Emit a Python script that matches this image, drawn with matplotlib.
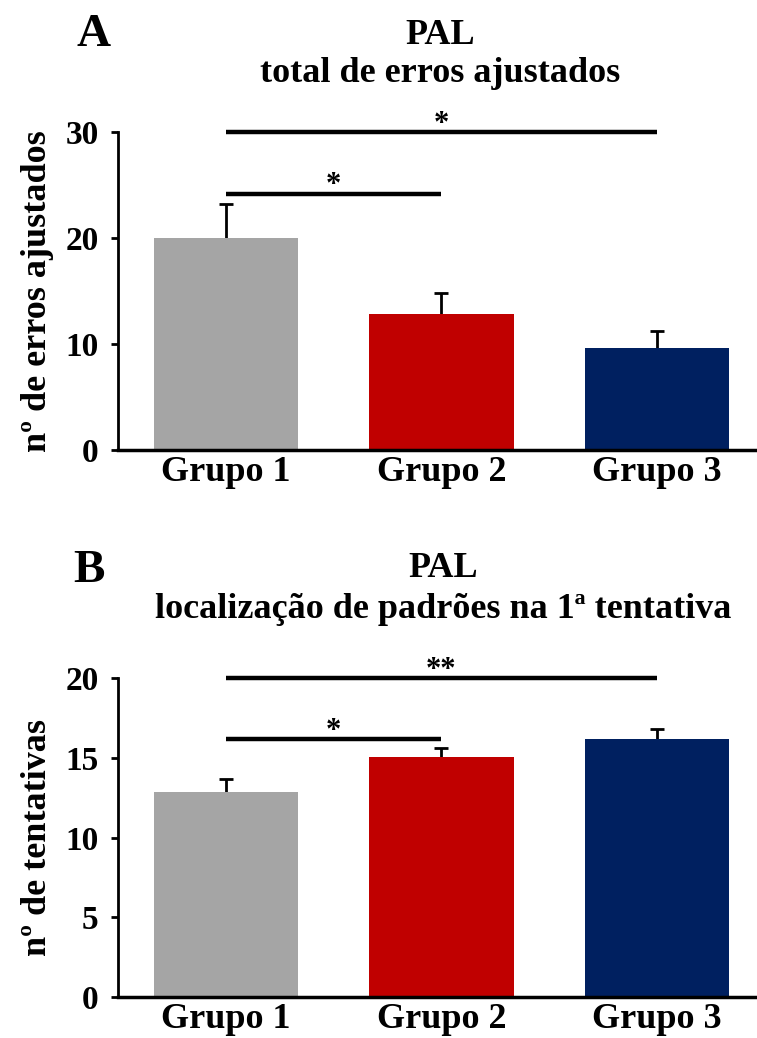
import numpy as np
import matplotlib.pyplot as plt

grupos = ['Grupo 1', 'Grupo 2', 'Grupo 3']
cores = ['#A5A5A5', '#C00000', '#002060']

# painel A - total de erros ajustados
erros_media = [20.0, 12.8, 9.6]
erros_ep = [3.2, 2.0, 1.6]
# painel B - localizacao na 1a tentativa
tent_media = [12.85, 15.05, 16.2]
tent_ep = [0.8, 0.55, 0.6]

# comparacoes (grupo i, grupo j, altura, texto)
sig_A = [(0, 2, 30.0, '*'), (0, 1, 24.2, '*')]
sig_B = [(0, 2, 20.0, '**'), (0, 1, 16.2, '*')]

plt.rcParams['font.family'] = ['Liberation Serif', 'DejaVu Serif']
plt.rcParams['font.weight'] = 'bold'

fig = plt.figure(figsize=(7.57, 10.38), dpi=100)

def painel(rect, media, ep, sig, ymax, ystep, ylabel):
    ax = fig.add_axes(rect)
    x = np.arange(len(grupos))
    ax.bar(x, media, width=0.67, color=cores, zorder=2)
    # barra de erro simetrica atras da barra -> so a metade de cima aparece
    ax.errorbar(x, media, yerr=ep, fmt='none', ecolor='black',
                elinewidth=2, capsize=5, capthick=2, zorder=1)
    for i, j, h, txt in sig:
        ax.plot([x[i], x[j]], [h, h], color='black', lw=3.2,
                solid_capstyle='butt', clip_on=False, zorder=4)
        ax.annotate(txt, ((x[i] + x[j]) / 2, h), xytext=(0, -5),
                    textcoords='offset points', ha='center', va='bottom',
                    fontsize=22, fontweight='bold', annotation_clip=False)
    ax.set_xlim(-0.5, 2.465)
    ax.set_ylim(0, ymax)
    ax.set_yticks(np.arange(0, ymax + 0.1, ystep))
    ax.set_xticks(x)
    ax.set_xticklabels(grupos, fontsize=26, fontweight='bold')
    ax.tick_params(axis='x', length=0, pad=4)
    ax.tick_params(axis='y', length=5, width=2, labelsize=24, pad=9)
    for lbl in ax.get_yticklabels():
        lbl.set_fontweight('bold')
    ax.spines['top'].set_visible(False)
    ax.spines['right'].set_visible(False)
    ax.spines['left'].set_linewidth(2)
    ax.spines['bottom'].set_linewidth(2.5)
    ax.set_ylabel(ylabel, fontsize=26, fontweight='bold', labelpad=8)
    return ax

axA = painel([0.156, 0.5665, 0.844, 0.3063], erros_media, erros_ep, sig_A,
             30, 10, 'nº de erros ajustados')
axB = painel([0.156, 0.0395, 0.844, 0.3073], tent_media, tent_ep, sig_B,
             20, 5, 'nº de tentativas')

fig.text(0.124, 0.966, 'A', fontsize=34, fontweight='bold', ha='center', va='center')
fig.text(0.581, 0.966, 'PAL', fontsize=26, fontweight='bold', ha='center', va='center')
fig.text(0.581, 0.929, 'total de erros ajustados', fontsize=26, fontweight='bold',
         ha='center', va='center')

fig.text(0.117, 0.450, 'B', fontsize=34, fontweight='bold', ha='center', va='center')
fig.text(0.585, 0.452, 'PAL', fontsize=26, fontweight='bold', ha='center', va='center')
fig.text(0.585, 0.413, 'localização de padrões na 1ª tentativa', fontsize=26,
         fontweight='bold', ha='center', va='center')

fig.savefig('out.png', dpi=100)
